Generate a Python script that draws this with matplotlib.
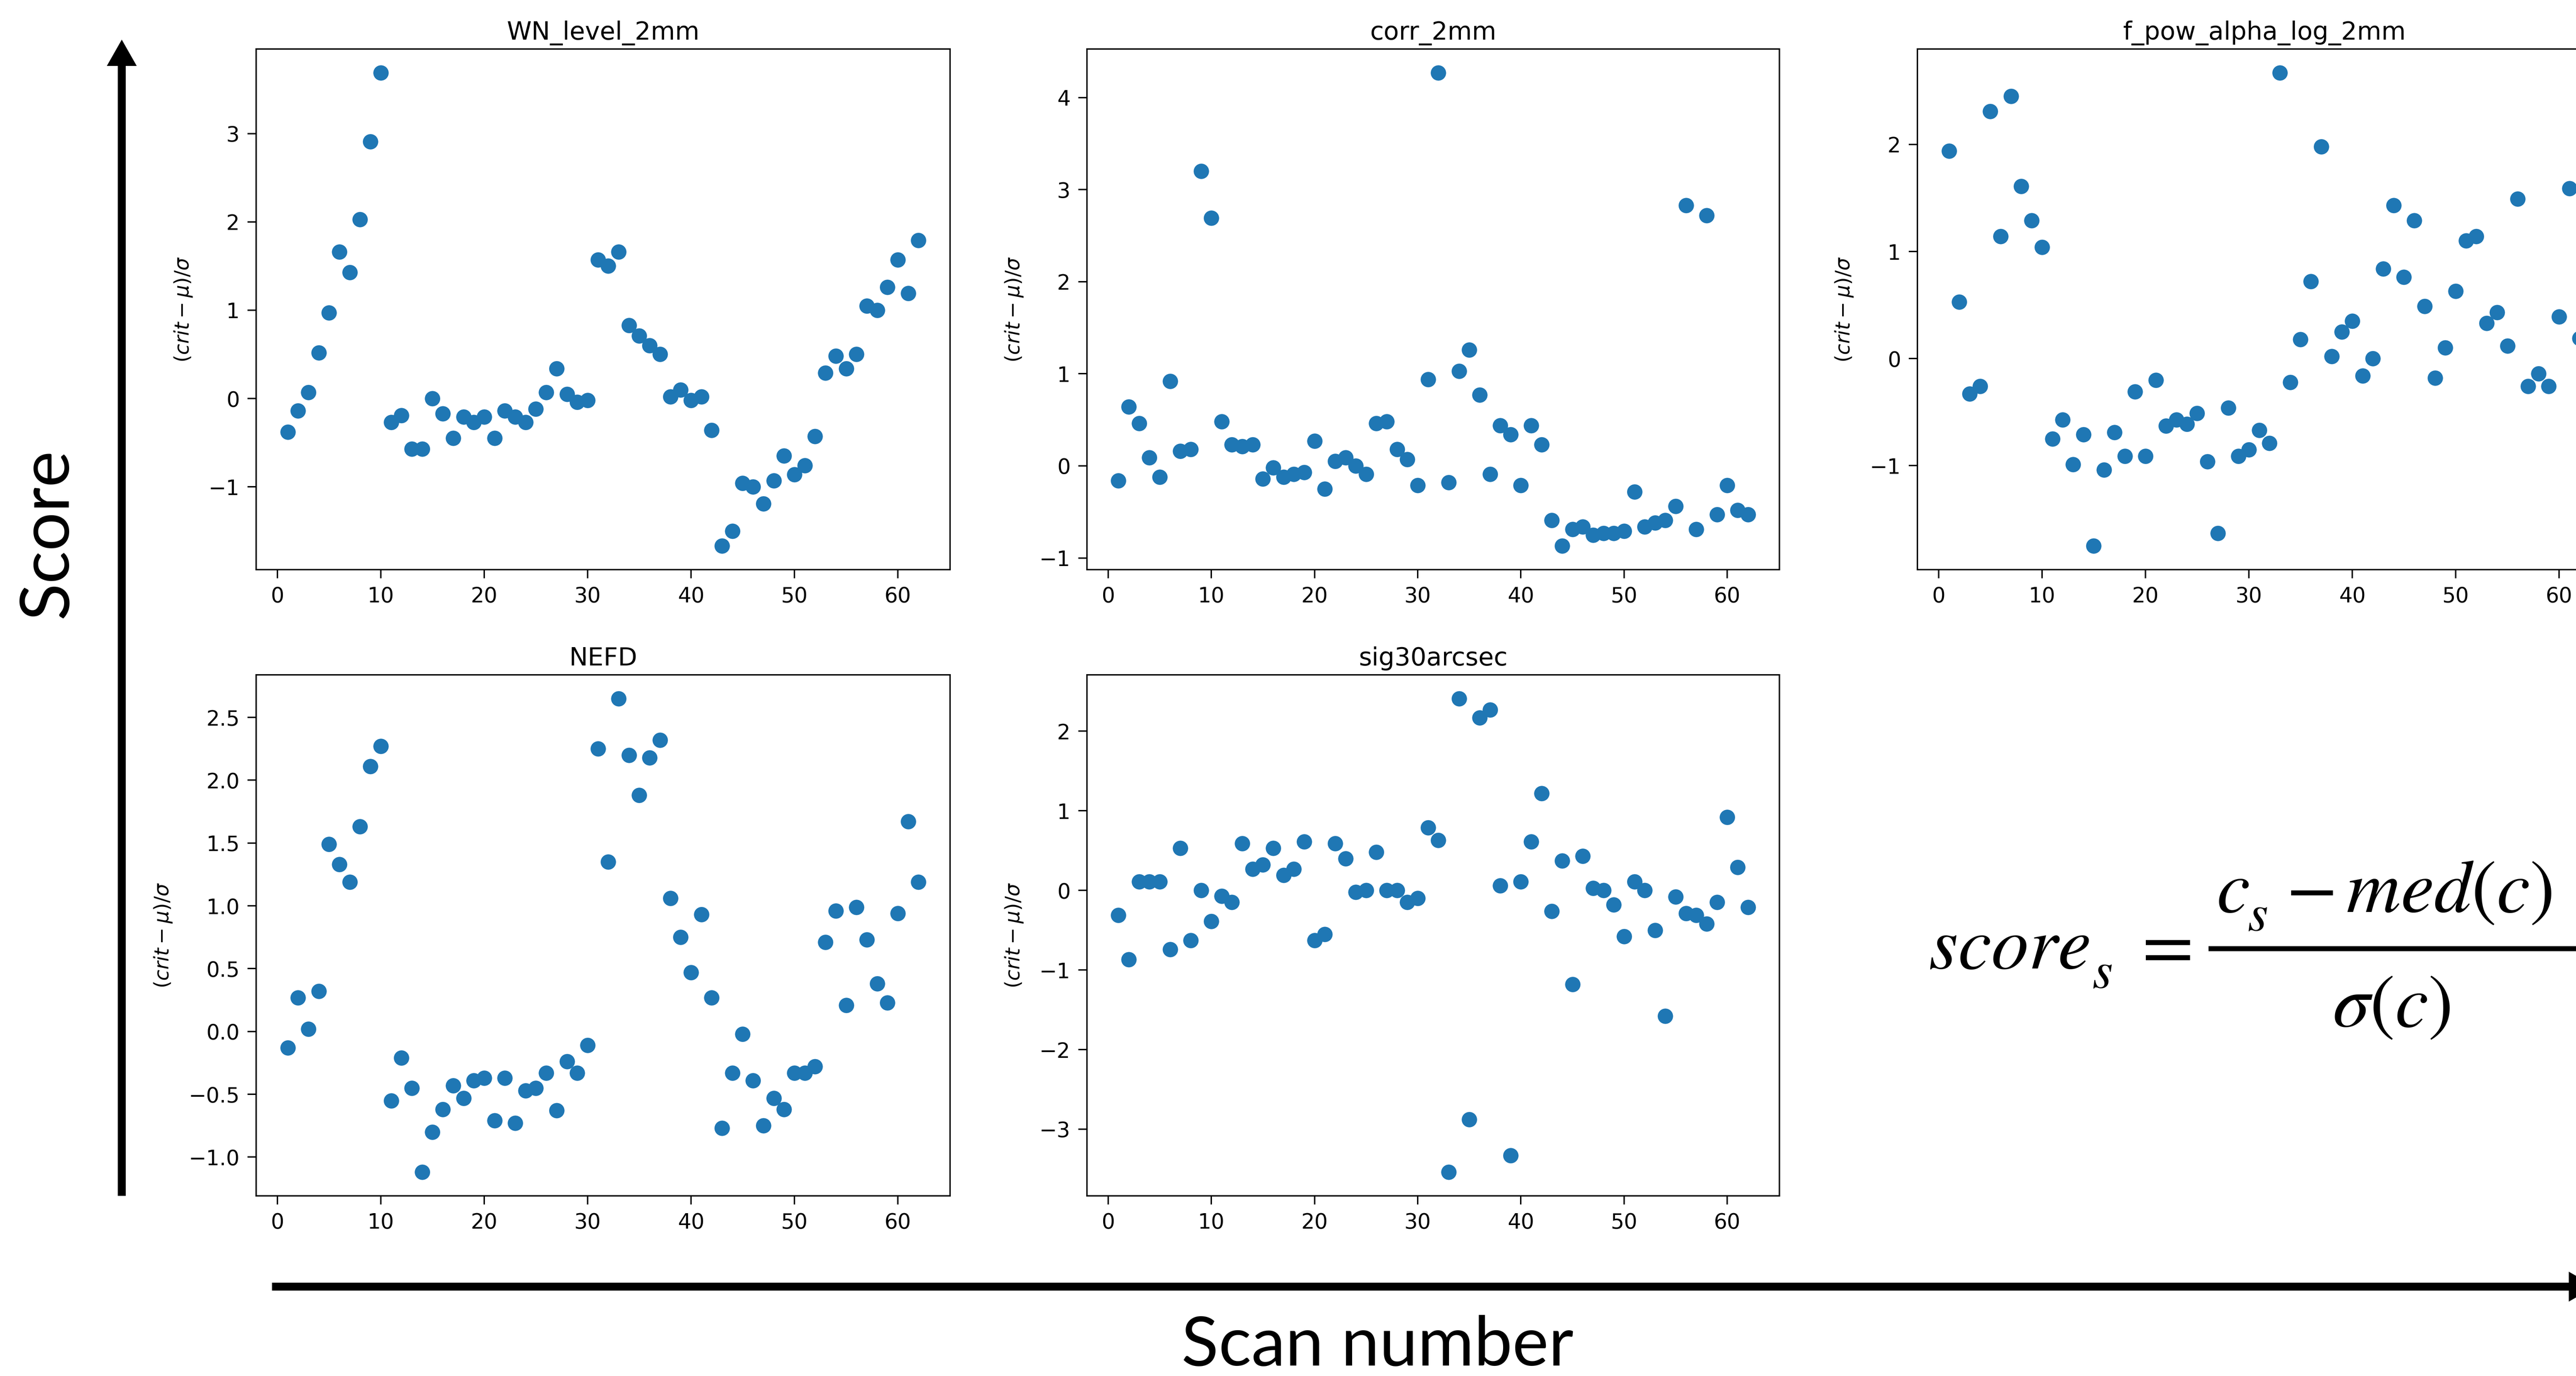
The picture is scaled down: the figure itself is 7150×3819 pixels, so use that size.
import numpy as np
import matplotlib
matplotlib.use("Agg")
import matplotlib.pyplot as plt
from matplotlib.patches import FancyArrow
from matplotlib.lines import Line2D

# scan index shared by every criterion
scans = np.arange(1, 63)

# normalised criteria, (crit - mu) / sigma per scan
wn_level_2mm = [-0.38, -0.14, 0.07, 0.52, 0.97, 1.66, 1.43, 2.03, 2.91, 3.69,
                -0.27, -0.19, -0.57, -0.57, 0.00, -0.17, -0.45, -0.21, -0.27, -0.21,
                -0.45, -0.14, -0.21, -0.27, -0.12, 0.07, 0.34, 0.05, -0.04, -0.02,
                1.57, 1.50, 1.66, 0.83, 0.71, 0.60, 0.50, 0.02, 0.10, -0.02,
                0.02, -0.36, -1.67, -1.50, -0.96, -1.00, -1.19, -0.93, -0.65, -0.86,
                -0.76, -0.43, 0.29, 0.48, 0.34, 0.50, 1.05, 1.00, 1.26, 1.57,
                1.19, 1.79]

corr_2mm = [-0.16, 0.64, 0.46, 0.09, -0.12, 0.92, 0.16, 0.18, 3.20, 2.69,
            0.48, 0.23, 0.21, 0.23, -0.14, -0.02, -0.12, -0.09, -0.07, 0.27,
            -0.25, 0.05, 0.09, 0.00, -0.09, 0.46, 0.48, 0.18, 0.07, -0.21,
            0.94, 4.27, -0.18, 1.03, 1.26, 0.77, -0.09, 0.44, 0.34, -0.21,
            0.44, 0.23, -0.59, -0.87, -0.69, -0.66, -0.75, -0.73, -0.73, -0.71,
            -0.28, -0.66, -0.62, -0.59, -0.44, 2.83, -0.69, 2.72, -0.53, -0.21,
            -0.48, -0.53]

f_pow_alpha_log_2mm = [1.94, 0.53, -0.33, -0.26, 2.31, 1.14, 2.45, 1.61, 1.29, 1.04,
                       -0.75, -0.57, -0.99, -0.71, -1.75, -1.04, -0.69, -0.91, -0.31, -0.91,
                       -0.20, -0.63, -0.57, -0.61, -0.51, -0.96, -1.63, -0.46, -0.91, -0.85,
                       -0.67, -0.79, 2.67, -0.22, 0.18, 0.72, 1.98, 0.02, 0.25, 0.35,
                       -0.16, 0.00, 0.84, 1.43, 0.76, 1.29, 0.49, -0.18, 0.10, 0.63,
                       1.10, 1.14, 0.33, 0.43, 0.12, 1.49, -0.26, -0.14, -0.26, 0.39,
                       1.59, 0.19]

nefd = [-0.13, 0.27, 0.02, 0.32, 1.49, 1.33, 1.19, 1.63, 2.11, 2.27,
        -0.55, -0.21, -0.45, -1.12, -0.80, -0.62, -0.43, -0.53, -0.39, -0.37,
        -0.71, -0.37, -0.73, -0.47, -0.45, -0.33, -0.63, -0.24, -0.33, -0.11,
        2.25, 1.35, 2.65, 2.20, 1.88, 2.18, 2.32, 1.06, 0.75, 0.47,
        0.93, 0.27, -0.77, -0.33, -0.02, -0.39, -0.75, -0.53, -0.62, -0.33,
        -0.33, -0.28, 0.71, 0.96, 0.21, 0.99, 0.73, 0.38, 0.23, 0.94,
        1.67, 1.19]

sig30arcsec = [-0.31, -0.87, 0.11, 0.11, 0.11, -0.74, 0.53, -0.63, 0.00, -0.39,
               -0.07, -0.15, 0.59, 0.27, 0.32, 0.53, 0.19, 0.27, 0.61, -0.63,
               -0.55, 0.59, 0.40, -0.02, 0.00, 0.48, 0.00, 0.00, -0.15, -0.10,
               0.79, 0.63, -3.54, 2.41, -2.88, 2.17, 2.27, 0.06, -3.33, 0.11,
               0.61, 1.22, -0.26, 0.37, -1.18, 0.43, 0.03, 0.00, -0.18, -0.58,
               0.11, 0.00, -0.50, -1.58, -0.08, -0.29, -0.31, -0.42, -0.15, 0.92,
               0.29, -0.21]

titles = ["WN_level_2mm", "corr_2mm", "f_pow_alpha_log_2mm", "NEFD", "sig30arcsec"]
series = [wn_level_2mm, corr_2mm, f_pow_alpha_log_2mm, nefd, sig30arcsec]

W, H = 7150, 3819
fig = plt.figure(figsize=(W / 100, H / 100), dpi=100)
fig.patch.set_facecolor("white")

# pixel-space overlay for arrows and the formula
bg = fig.add_axes([0, 0, 1, 1])
bg.set_xlim(0, W)
bg.set_ylim(H, 0)
bg.axis("off")
bg.add_patch(FancyArrow(338, 3319, 0, -(3319 - 110), width=22, head_width=83,
                        head_length=73, length_includes_head=True,
                        color="black", lw=0))
bg.add_patch(FancyArrow(755, 3571, 7203 - 755, 0, width=22, head_width=83,
                        head_length=73, length_includes_head=True,
                        color="black", lw=0, clip_on=False))

# panel boxes in pixels: left, top, right, bottom
boxes = [(711, 136, 2637, 1581), (3017, 136, 4939, 1581), (5322, 136, 7248, 1581),
         (711, 1873, 2637, 3319), (3017, 1873, 4939, 3319)]

for title, vals, (l, t, r, b) in zip(titles, series, boxes):
    ax = fig.add_axes([l / W, 1 - b / H, (r - l) / W, (b - t) / H])
    ax.scatter(scans, vals, s=880, color="#1f77b4", zorder=3)
    ax.set_title(title, fontsize=50, pad=19)
    ax.set_ylabel(r"$(crit-\mu)/\sigma$", fontsize=40, labelpad=30)
    ax.tick_params(labelsize=42, length=17, width=2.8, pad=16)
    for sp in ax.spines.values():
        sp.set_linewidth(2.8)

fig.text(132 / W, 1 - 1480 / H, "Score", family="Lato", fontsize=137,
         rotation=90, ha="center", va="center")
fig.text(3823 / W, 1 - 3790 / H, "Scan number", family="Lato", fontsize=137,
         ha="center", va="baseline")

# score_s = (c_s - med(c)) / sigma(c), set piece by piece in a Times-like face
big, small = 150, 105
fkw = dict(math_fontfamily="stix", va="baseline")
bg.text(5353, 2688, r"$score$", fontsize=big, ha="left", **fkw)
bg.text(5807, 2742, r"$s$", fontsize=small, ha="left", **fkw)
bg.text(5997, 2688, r"$=$", fontsize=big, ha="center", **fkw)
bg.add_line(Line2D([6130, 7170], [2633, 2633], lw=10, color="black",
                   solid_capstyle="butt", clip_on=False))
bg.text(6152, 2531, r"$c$", fontsize=big, ha="left", **fkw)
bg.text(6238, 2583, r"$s$", fontsize=small, ha="left", **fkw)
bg.text(6345, 2531, r"$-\,med(c)$", fontsize=big, ha="left", **fkw)
bg.text(6638, 2849, r"$\sigma(c)$", fontsize=big, ha="center", **fkw)

fig.savefig("out.png", dpi=100)
